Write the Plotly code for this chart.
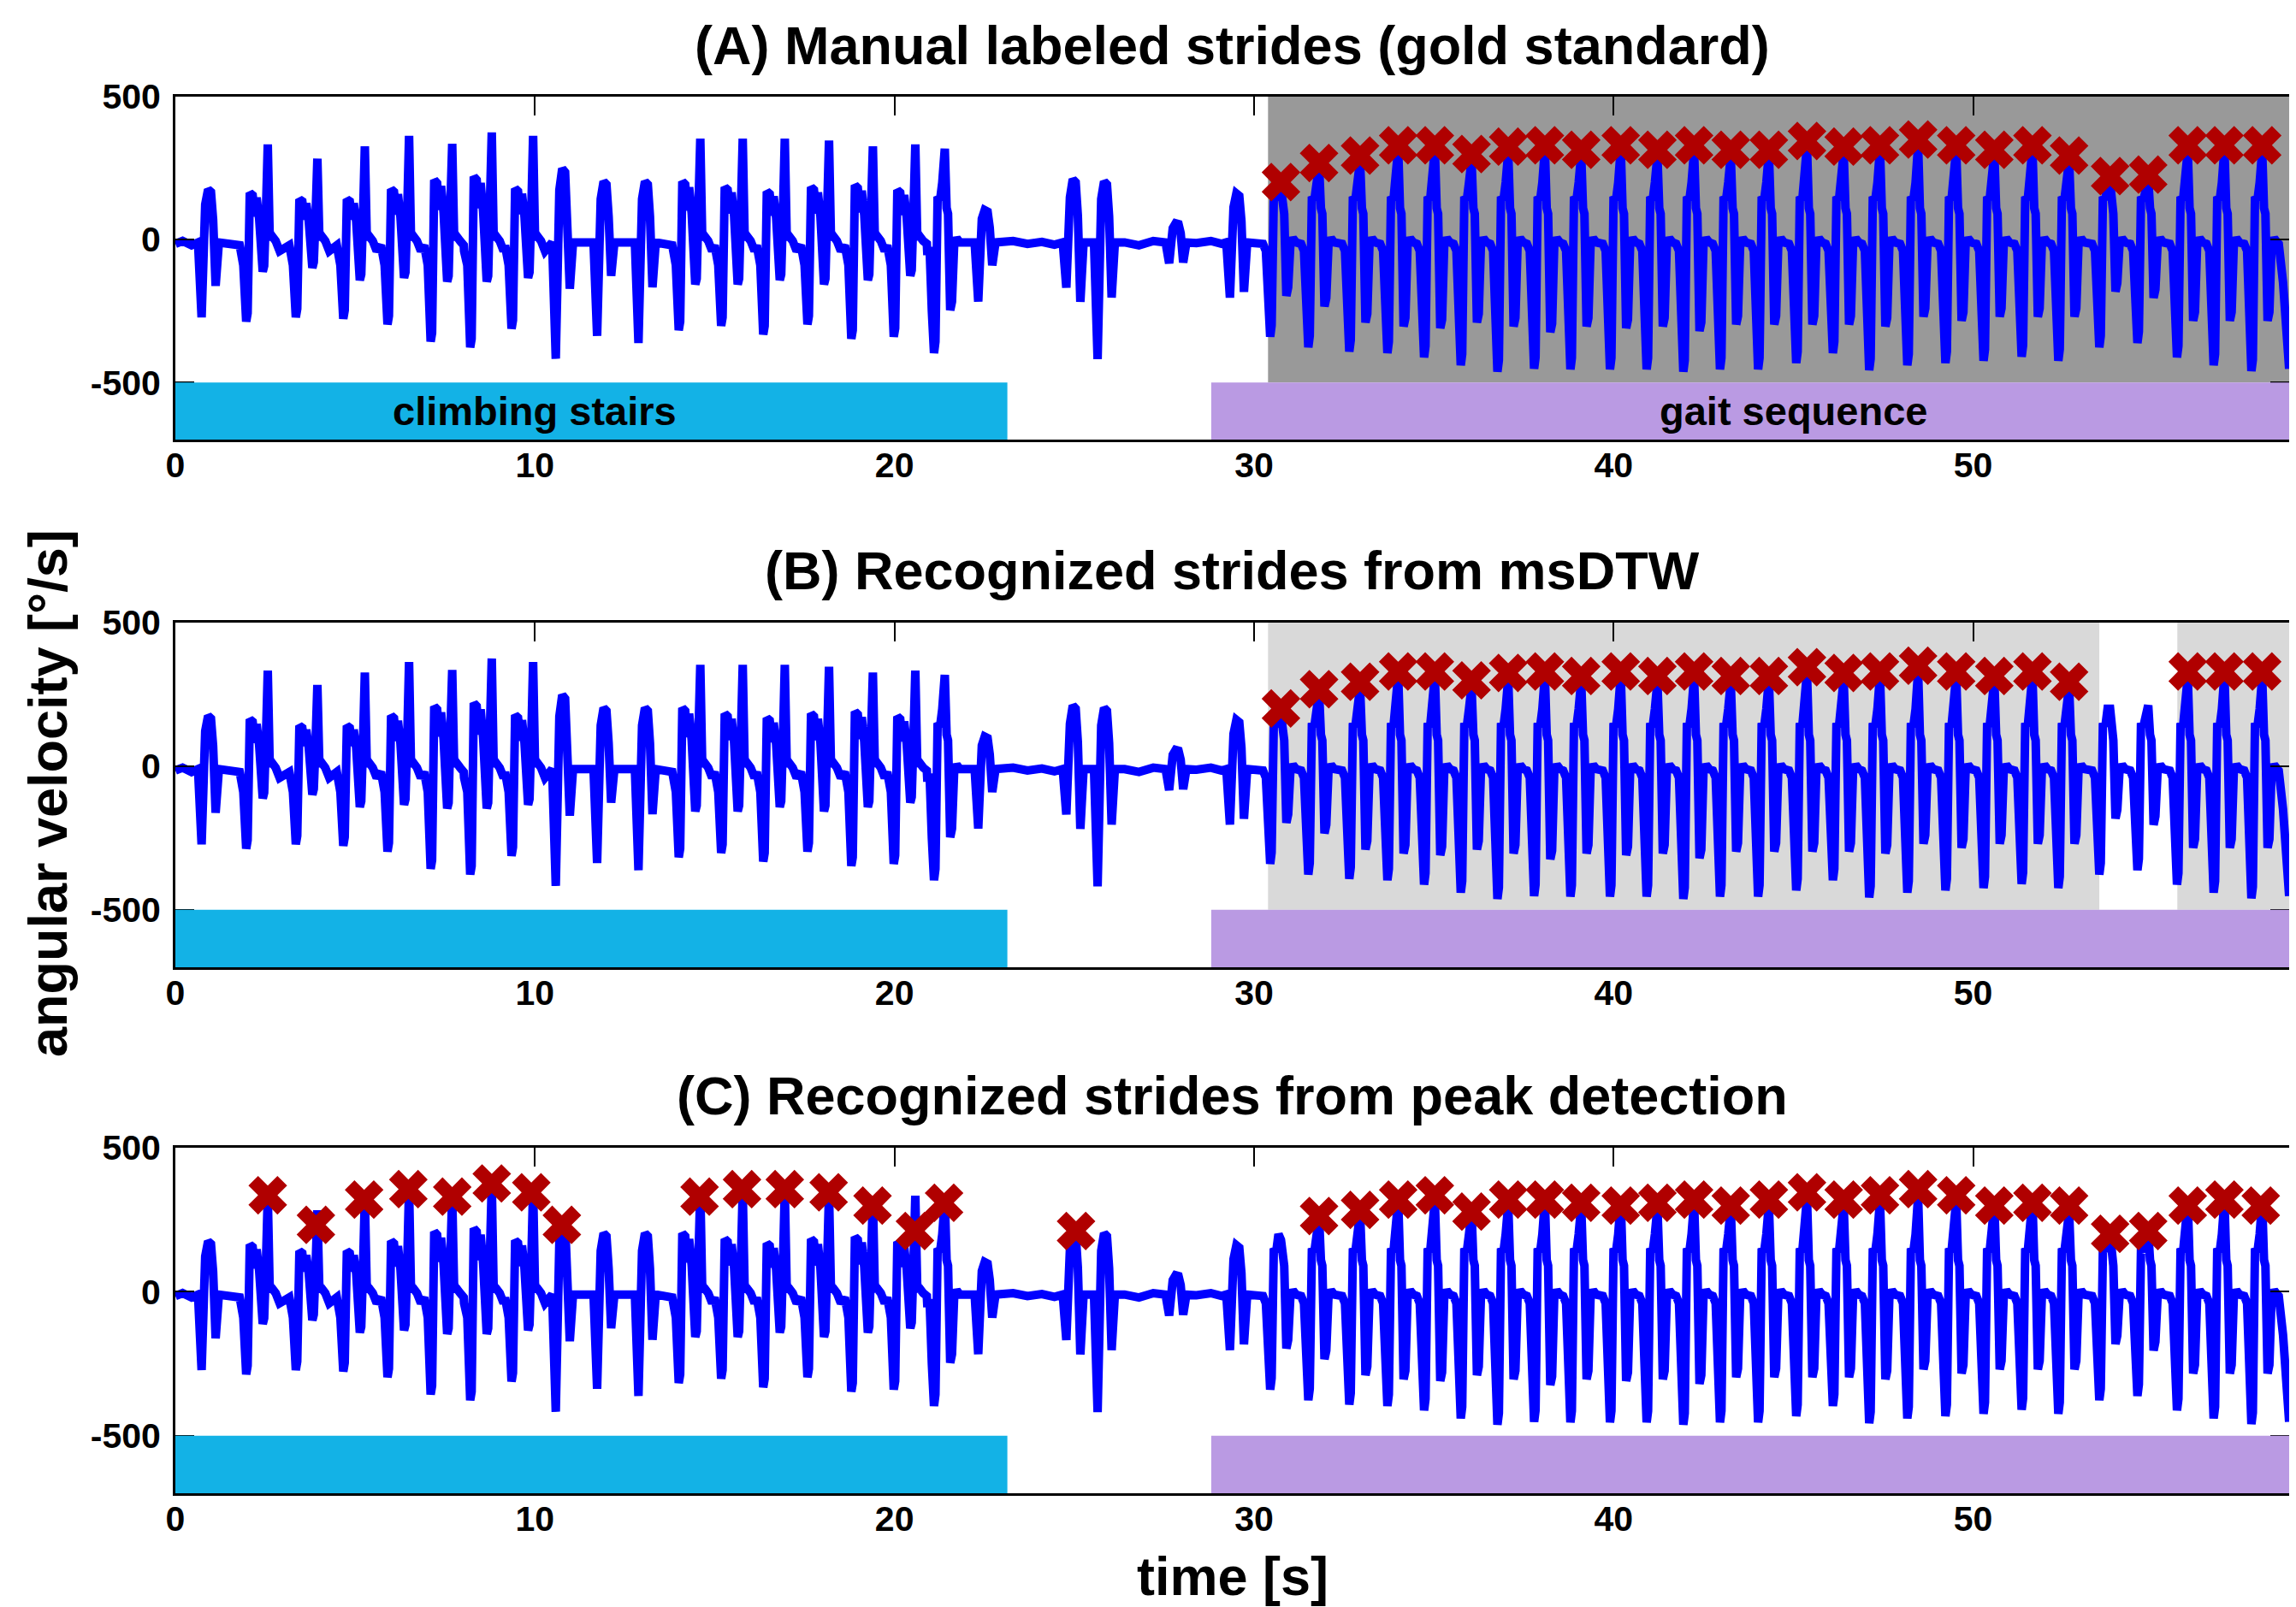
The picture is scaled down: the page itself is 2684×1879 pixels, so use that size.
import plotly.graph_objects as go

# ---------------- data ----------------
# stair-climbing strides: tall peak time [s], peak, trough before, plateau, small dip before peak  [deg/s]
stair_t       = [2.57, 3.95, 5.27, 6.50, 7.70, 8.80, 9.95, 14.60, 15.78, 16.95, 18.18, 19.40, 20.58]
stair_peak    = [333, 283, 326, 363, 335, 375, 363, 353, 353, 353, 346, 326, 333]
stair_trough  = [-287, -272, -277, -297, -357, -377, -312, -317, -302, -332, -297, -347, -340]
stair_plateau = [163, 141, 141, 176, 208, 220, 178, 203, 183, 168, 183, 190, 173]
stair_dip     = [-112, -99, -142, -134, -147, -147, -134, -157, -157, -142, -157, -142, -127]

# rounded single humps: centre time, trough before, hump top, dip after
hump_t      = [0.95, 10.80, 11.95, 13.10, 22.55, 25.00, 25.87, 27.86, 29.55]
hump_trough = [-272, -417, -337, -362, -217, -168, -418, -83, -203]
hump_top    = [175, 248, 203, 203, 103, 211, 203, 57, 161]
hump_dip    = [-162, -172, -127, -167, -90, -218, -203, -80, -183]

# walking strides: swing peak time, peak, toe-off trough, heel-strike trough
gait_t = [21.40, 30.75, 31.81, 32.95, 34.01, 35.03, 36.05, 37.07, 38.09, 39.10, 40.20,
          41.22, 42.24, 43.26, 44.32, 45.38, 46.40, 47.41, 48.47, 49.53, 50.59, 51.65,
          52.67, 53.81, 54.87, 55.97, 56.99, 58.04]
gait_peak = [318, 180, 260, 275, 318, 318, 278, 305, 318, 298, 318,
             294, 312, 292, 305, 328, 304, 318, 332, 318, 304, 318,
             278, 200, 212, 310, 320, 312]
gait_trough_pre = [-397, -340, -377, -392, -397, -412, -440, -462, -452, -454, -454,
                   -454, -462, -454, -454, -432, -397, -457, -440, -432, -424, -410,
                   -424, -377, -362, -412, -440, -460]
gait_trough_post = [-247, -197, -234, -290, -304, -310, -290, -304, -324, -304, -310,
                    -304, -320, -297, -297, -297, -297, -304, -270, -284, -270, -270,
                    -270, -182, -204, -284, -284, -284]

# resting / flat stretches and the end of the recording
flat_t = [0.00, 0.20, 0.45, 23.30, 23.70, 24.10, 24.45, 26.40, 26.80, 27.20,
          28.40, 28.80, 29.10, 58.50, 58.62, 58.79]
flat_v = [-15, -5, -20, -5, -15, -8, -18, -10, -20, -5,
          -12, -5, -15, -15, -150, -452]

# stride markers (red crosses) per panel
A_mark_t = [30.75, 31.81, 32.95, 34.01, 35.03, 36.05, 37.07, 38.09, 39.10, 40.20, 41.22,
            42.24, 43.26, 44.32, 45.38, 46.40, 47.41, 48.47, 49.53, 50.59, 51.65, 52.67,
            53.81, 54.87, 55.97, 56.99, 58.04]
A_mark_v = [201, 268, 294, 330, 330, 299, 325, 330, 314, 330, 314,
            330, 314, 314, 345, 325, 330, 350, 330, 314, 330, 294,
            222, 227, 330, 330, 330]
B_mark_t = [30.75, 31.81, 32.95, 34.01, 35.03, 36.05, 37.07, 38.09, 39.10, 40.20, 41.22,
            42.24, 43.26, 44.32, 45.38, 46.40, 47.41, 48.47, 49.53, 50.59, 51.65, 52.67,
            55.97, 56.99, 58.04]
B_mark_v = [201, 268, 294, 330, 330, 299, 325, 330, 314, 330, 314,
            330, 314, 314, 345, 325, 330, 350, 330, 314, 330, 294,
            330, 330, 330]
C_mark_t = [2.57, 3.91, 5.25, 6.48, 7.70, 8.80, 9.90, 10.75, 14.58, 15.76, 16.95, 18.17,
            19.39, 20.57, 21.38, 25.05,
            31.81, 32.95, 34.01, 35.03, 36.05, 37.07, 38.09, 39.10, 40.20, 41.22,
            42.24, 43.26, 44.32, 45.38, 46.40, 47.41, 48.47, 49.53, 50.59, 51.65, 52.67,
            53.81, 54.87, 55.97, 56.99, 58.00]
C_mark_v = [335, 232, 320, 356, 330, 376, 345, 232, 330, 356, 356, 345,
            299, 211, 309, 211,
            263, 284, 320, 335, 278, 320, 320, 309, 299, 309,
            320, 299, 320, 345, 320, 335, 356, 335, 299, 309, 299,
            201, 211, 299, 320, 299]

# activity labels (time spans) and highlighted stride regions
stairs_span = [0.0, 23.14]
gait_span = [28.81, 58.79]
A_shade = [[30.39, 58.79]]
B_shade = [[30.39, 53.51], [55.68, 58.79]]
x_range = [0, 58.79]
y_range = [-700, 500]
label_band = [-700, -500]
x_ticks = [0, 10, 20, 30, 40, 50]
y_ticks = [-500, 0, 500]
y_ticktext = ["-500", "0", "500"]
titles = ["(A) Manual labeled strides (gold standard)",
          "(B) Recognized strides from msDTW",
          "(C) Recognized strides from peak detection"]

# ---------------- build the polyline from the stride readings ----------------
pts = []
for tp, pk, tr, pl, dp in zip(stair_t, stair_peak, stair_trough, stair_plateau, stair_dip):
    pts += [(tp - 0.78, -20), (tp - 0.68, -90), (tp - 0.60, tr), (tp - 0.56, tr + 30),
            (tp - 0.50, pl), (tp - 0.42, 0.95 * pl), (tp - 0.36, 0.5 * pl),
            (tp - 0.31, 0.9 * pl), (tp - 0.24, 0.45 * pl), (tp - 0.14, dp),
            (tp - 0.10, dp + 20), (tp - 0.05, 0.6 * pl), (tp - 0.02, 0.85 * pk), (tp, pk),
            (tp + 0.05, 30), (tp + 0.09, 0), (tp + 0.13, 10), (tp + 0.22, -5),
            (tp + 0.33, -40)]
for tc, tr, hp, dp in zip(hump_t, hump_trough, hump_top, hump_dip):
    pts += [(tc - 0.32, -10), (tc - 0.22, tr), (tc - 0.12, 0.7 * hp), (tc - 0.04, hp),
            (tc + 0.04, 0.95 * hp), (tc + 0.10, 0.4 * hp), (tc + 0.17, dp), (tc + 0.26, -10)]
for tp, pk, t1, t2 in zip(gait_t, gait_peak, gait_trough_pre, gait_trough_post):
    pts += [(tp - 0.50, -15), (tp - 0.42, -40), (tp - 0.36, -250), (tp - 0.30, t1),
            (tp - 0.26, t1 + 40), (tp - 0.20, 150), (tp - 0.13, 140), (tp - 0.07, 200),
            (tp, pk), (tp + 0.05, 110), (tp + 0.09, 90), (tp + 0.15, t2),
            (tp + 0.20, t2 + 30), (tp + 0.26, -20), (tp + 0.33, 5), (tp + 0.42, -10)]
pts += list(zip(flat_t, flat_v))
pts.sort(key=lambda p: p[0])
sig_t = [p[0] for p in pts]
sig_v = [p[1] for p in pts]

# ---------------- figure ----------------
FONT = "Liberation Sans"
BLUE = "#0000FF"
RED = "#B00000"
CYAN = "#13B2E6"
PURPLE = "#BA9AE3"

fig = go.Figure()
domains = [[0.7544, 1.0], [0.3766, 0.6234], [0.0, 0.2474]]
marks = [(A_mark_t, A_mark_v), (B_mark_t, B_mark_v), (C_mark_t, C_mark_v)]
shades = [(A_shade, "#999999"), (B_shade, "#D9D9D9"), ([], "#FFFFFF")]

shapes = []
annotations = []
for i in range(3):
    xa = "x" if i == 0 else f"x{i+1}"
    ya = "y" if i == 0 else f"y{i+1}"
    fig.add_trace(go.Scatter(x=sig_t, y=sig_v, mode="lines", xaxis=xa, yaxis=ya,
                             line=dict(color=BLUE, width=10), showlegend=False,
                             hoverinfo="skip"))
    mt, mv = marks[i]
    fig.add_trace(go.Scatter(x=mt, y=mv, mode="markers", xaxis=xa, yaxis=ya,
                             marker=dict(symbol="x", size=40, color=RED,
                                         line=dict(width=0)),
                             showlegend=False, hoverinfo="skip"))
    sh_list, sh_col = shades[i]
    for a, b in sh_list:
        shapes.append(dict(type="rect", xref=xa, yref=ya, x0=a, x1=b,
                           y0=label_band[1], y1=y_range[1], fillcolor=sh_col,
                           line=dict(width=0), layer="below"))
    shapes.append(dict(type="rect", xref=xa, yref=ya, x0=stairs_span[0], x1=stairs_span[1],
                       y0=label_band[0], y1=label_band[1], fillcolor=CYAN,
                       line=dict(width=0), layer="above"))
    shapes.append(dict(type="rect", xref=xa, yref=ya, x0=gait_span[0], x1=gait_span[1],
                       y0=label_band[0], y1=label_band[1], fillcolor=PURPLE,
                       line=dict(width=0), layer="above"))
    axis_common = dict(showline=True, linecolor="black", linewidth=3, mirror="ticks",
                       ticks="inside", ticklen=22, tickwidth=1.5, tickcolor="black",
                       showgrid=False, zeroline=False,
                       tickfont=dict(family=FONT, size=41, color="black", weight="bold"))
    xkey = "xaxis" if i == 0 else f"xaxis{i+1}"
    ykey = "yaxis" if i == 0 else f"yaxis{i+1}"
    fig.update_layout(**{
        xkey: dict(domain=[0, 1], anchor=ya, range=x_range, tickvals=x_ticks,
                   ticklabelstandoff=-8, **axis_common),
        ykey: dict(domain=domains[i], anchor=xa, range=y_range, tickvals=y_ticks,
                   ticktext=y_ticktext, ticklabelstandoff=6, **axis_common),
    })

title_y = [1.037, 0.6607, 0.2847]
for i in range(3):
    annotations.append(dict(text=titles[i], xref="paper", yref="paper", x=0.5, y=title_y[i],
                            xanchor="center", yanchor="middle", showarrow=False,
                            font=dict(family=FONT, size=63, color="black", weight="bold")))
annotations.append(dict(text="climbing stairs", xref="x", yref="y", x=10.0, y=-600,
                        showarrow=False, xanchor="center", yanchor="middle",
                        font=dict(family=FONT, size=47, color="black", weight="bold")))
annotations.append(dict(text="gait sequence", xref="x", yref="y", x=45.0, y=-600,
                        showarrow=False, xanchor="center", yanchor="middle",
                        font=dict(family=FONT, size=47, color="black", weight="bold")))
annotations.append(dict(text="angular velocity [°/s]", xref="paper", yref="paper",
                        x=-0.0603, y=0.5015, textangle=-90, showarrow=False,
                        xanchor="center", yanchor="middle",
                        font=dict(family=FONT, size=63, color="black", weight="bold")))
annotations.append(dict(text="time [s]", xref="paper", yref="paper", x=0.5, y=-0.0594,
                        showarrow=False, xanchor="center", yanchor="middle",
                        font=dict(family=FONT, size=63, color="black", weight="bold")))

fig.update_layout(width=2684, height=1879, margin=dict(l=197, r=16, t=105, b=141),
                  plot_bgcolor="white", paper_bgcolor="white",
                  shapes=shapes, annotations=annotations, showlegend=False)
fig.write_html("out.html")
